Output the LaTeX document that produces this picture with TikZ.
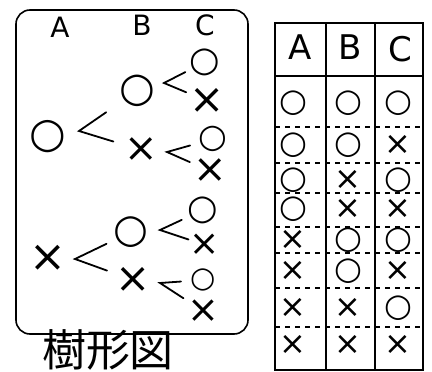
\documentclass[tikz,border=0pt]{standalone}
\usepackage{fontspec}
\usepackage{tikz}
\usetikzlibrary{positioning,calc}
\setmainfont{DejaVu Sans}
\newfontfamily\jpfont{Noto Sans CJK JP}

\begin{document}
\begin{tikzpicture}[x=1pt,y=-1pt,
  sym/.style={inner sep=0pt,font=\fontsize{#1}{#1}\selectfont},
  hd/.style={font=\fontsize{28}{28}\selectfont},
  br/.style={line width=1.8pt,line cap=round},
  frame/.style={line width=1.6pt,rounded corners=14pt},
  sep/.style={line width=1.2pt,dash pattern=on 5pt off 5pt}]
  \useasboundingbox (0,0) rectangle (432,372);
  \draw[frame] (16,10) rectangle (248,334);
  \node[hd] (hA) at (60,27) {A};
  \node[hd] (hB) at (142,25) {B};
  \node[hd] (hC) at (205,25) {C};
  \node[sym=42] (a1) at (48,137) {○};
  \node[sym=44] (a2) at (48,258) {×};
  \node[sym=41] (b1) at (137,91) {○};
  \node[sym=40] (b2) at (141,150) {×};
  \node[sym=40] (b3) at (131,232) {○};
  \node[sym=42] (b4) at (133,280) {×};
  \node[sym=35] (c1) at (205,62) {○};
  \node[sym=42] (c2) at (207,101) {×};
  \node[sym=33] (c3) at (213,139) {○};
  \node[sym=40] (c4) at (210,171) {×};
  \node[sym=35] (c5) at (203,210) {○};
  \node[sym=36] (c6) at (205,245) {×};
  \node[sym=29] (c7) at (203,280) {○};
  \node[sym=38] (c8) at (203,311) {×};
  \coordinate (va1) at (79,131);
  \coordinate (va2) at (75,259);
  \coordinate (vb1) at (164,83);
  \coordinate (vb2) at (167,152);
  \coordinate (vb3) at (160,230);
  \coordinate (vb4) at (160,283);
  \draw[br] ($(va1)!33pt!(b1)$) -- (va1) -- ($(va1)!36pt!(b2)$);
  \draw[br] ($(va2)!35pt!(b3)$) -- (va2) -- ($(va2)!34pt!(b4)$);
  \draw[br] ($(vb1)!24pt!(c1)$) -- (vb1) -- ($(vb1)!24pt!(c2)$);
  \draw[br] ($(vb2)!24pt!(c3)$) -- (vb2) -- ($(vb2)!25pt!(c4)$);
  \draw[br] ($(vb3)!24pt!(c5)$) -- (vb3) -- ($(vb3)!30pt!(c6)$);
  \draw[br] ($(vb4)!21pt!(c7)$) -- (vb4) -- ($(vb4)!28pt!(c8)$);
  \node[font=\jpfont\fontsize{44}{44}\selectfont] (lbl) at (108,350) {樹形図};
  \draw[line width=1.6pt] (275,23) rectangle (423,370);
  \draw[line width=1.6pt] (275,76) -- (423,76) (326,23) -- (326,370) (375,23) -- (375,370);
  \foreach \y in {127,163,193,227,253,288,327} \draw[sep] (275,\y) -- (423,\y);
  \node[font=\fontsize{34}{34}\selectfont] (tA) at (300,47) {A};
  \node[font=\fontsize{34}{34}\selectfont] (tB) at (350,47) {B};
  \node[font=\fontsize{34}{34}\selectfont] (tC) at (400,49) {C};
  \foreach \y/\p/\q/\r [count=\i] in {103/○/○/○,145/○/○/×,180/○/×/○,209/○/×/×,240/×/○/○,271/×/○/×,308/×/×/○,345/×/×/×}{
    \node[sym=32] (t\i a) at (293,\y) {\p};
    \node[sym=32] (t\i b) at (348,\y) {\q};
    \node[sym=32] (t\i c) at (398,\y) {\r};
  }
\end{tikzpicture}
\end{document}
